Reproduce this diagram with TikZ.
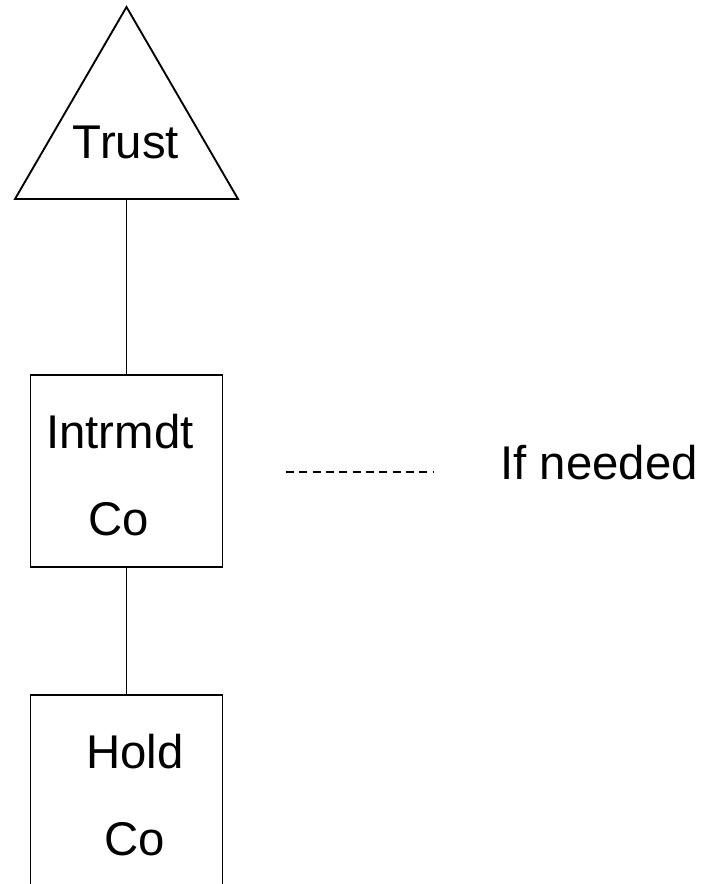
\documentclass[tikz,border=0pt]{standalone}
\usepackage{fontspec}
\setmainfont{Liberation Sans}
\begin{document}
\begin{tikzpicture}[x=0.75pt,y=-0.75pt,line width=1.4pt,
  lbl/.style={font=\fontsize{35.5}{40}\selectfont,anchor=base,inner sep=0pt},
  boxnode/.style={draw,minimum width=144pt,minimum height=144pt,inner sep=0pt},
  dashline/.style={line width=0.9pt,dash pattern=on 6pt off 4pt}]
\useasboundingbox (0,0) rectangle (704,884);
% triangle
\coordinate (apex) at (126.5,7);
\coordinate (bl) at (15,199);
\coordinate (br) at (238,199);
\coordinate (tribase) at (126.5,199);
\draw (apex) -- (br) -- (bl) -- cycle;
\node[lbl] (trust) at (126,159) {Trust};
% boxes
\node[boxnode] (inter) at (126.5,471) {};
\node[boxnode] (hold) at (126.5,791) {};
\node[lbl] (intertxt) at (120,448) {Intrmdt};
\node[lbl] (interco) at (119,535) {Co};
\node[lbl] (holdtxt) at (135,768) {Hold};
\node[lbl] (holdco) at (135,855) {Co};
% connectors
\draw (tribase) -- (inter.north);
\draw (inter.south) -- (hold.north);
% dashed line and label
\coordinate (d1) at (286,472);
\coordinate (d2) at (434,472);
\draw[dashline] (d1) -- (d2);
\node[lbl] (ifneeded) at (599,479) {If needed};
\end{tikzpicture}
\end{document}
